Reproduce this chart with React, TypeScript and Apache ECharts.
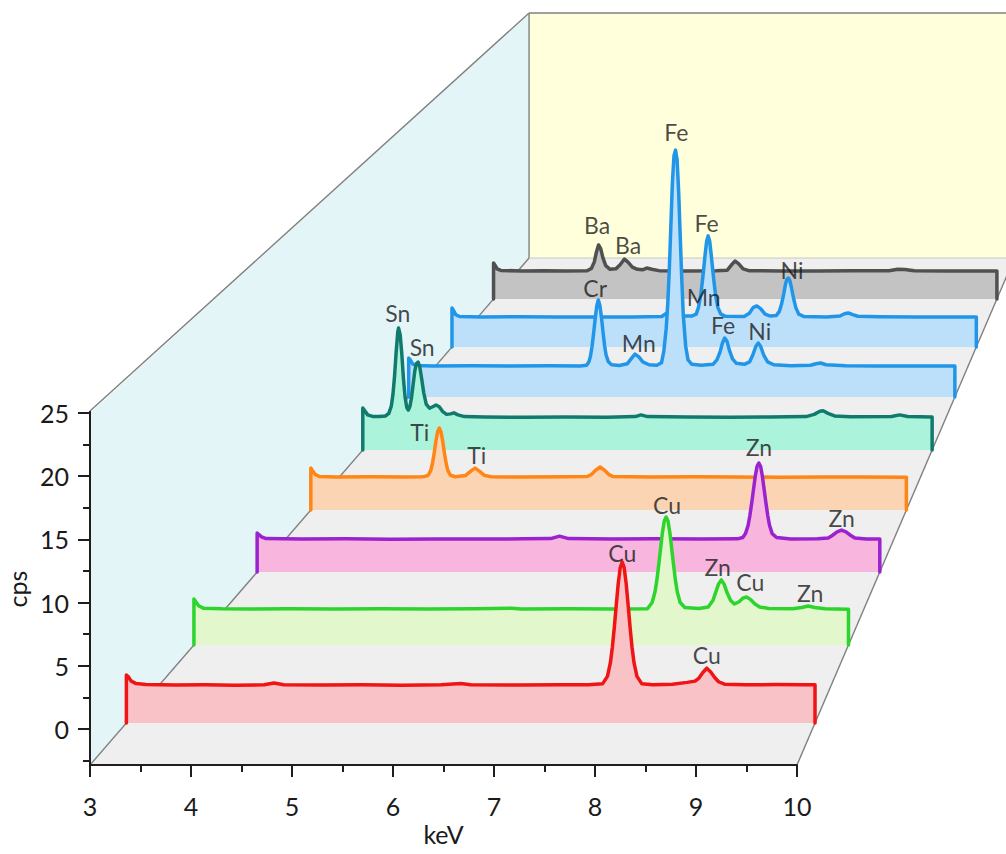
import React, { useEffect, useRef } from "react";
import * as echarts from "echarts";

// ---------------- data ----------------
const KEV_MIN = 3;
const KEV_MAX = 10;
const CPS_TICKS = [0, 5, 10, 15, 20, 25];
const CPS_MINOR_TICKS = [-2.5, 2.5, 7.5, 12.5, 17.5, 22.5];

// spectra: [keV, cps] (front to back)
const SPEC_CU = [[3,0],[3,3.9],[3.02,3.75],[3.05,3.4],[3.1,3.2],[3.2,3.12],[3.5,3.08],[3.8,3.1],[4.1,3.07],[4.4,3.1],[4.5,3.25],[4.6,3.1],[5.0,3.08],[5.4,3.1],[5.8,3.07],[6.2,3.1],[6.4,3.2],[6.5,3.1],[7.0,3.08],[7.4,3.1],[7.7,3.1],[7.84,3.18],[7.89,3.79],[7.92,4.9],[7.94,6.15],[7.96,7.78],[7.98,9.62],[8.0,11.36],[8.02,12.62],[8.04,13.08],[8.06,12.62],[8.08,11.36],[8.1,9.62],[8.12,7.78],[8.14,6.15],[8.16,4.9],[8.19,3.79],[8.24,3.18],[8.35,3.1],[8.55,3.15],[8.7,3.3],[8.78,3.4],[8.82,3.65],[8.86,4.1],[8.9,4.45],[8.94,4.15],[8.98,3.7],[9.02,3.35],[9.08,3.15],[9.3,3.1],[9.6,3.12],[9.9,3.1],[10,3.1],[10,0]];
const SPEC_CUZN = [[3,0],[3,3.93],[3.02,3.7],[3.05,3.35],[3.1,3.15],[3.3,3.1],[3.6,3.08],[4.0,3.1],[4.5,3.07],[5.0,3.1],[5.5,3.08],[6.0,3.1],[6.4,3.15],[6.5,3.08],[7.0,3.1],[7.5,3.08],[7.85,3.1],[7.9,3.63],[7.93,4.5],[7.95,5.5],[7.97,6.8],[7.99,8.2],[8.01,9.6],[8.03,10.6],[8.05,10.94],[8.07,10.6],[8.09,9.6],[8.11,8.2],[8.13,6.8],[8.15,5.5],[8.17,4.5],[8.2,3.63],[8.25,3.2],[8.4,3.12],[8.5,3.25],[8.55,3.8],[8.58,4.5],[8.61,5.2],[8.64,5.56],[8.67,5.2],[8.7,4.5],[8.74,3.8],[8.78,3.5],[8.83,3.7],[8.87,4.0],[8.91,4.1],[8.95,3.9],[9.0,3.5],[9.05,3.25],[9.15,3.12],[9.4,3.1],[9.5,3.2],[9.57,3.33],[9.64,3.2],[9.75,3.1],[10,3.05],[10,0]];
const SPEC_ZN = [[3,0],[3,3.5],[3.02,3.35],[3.05,3.15],[3.1,3.0],[3.5,2.96],[4.0,2.98],[4.5,2.95],[5.0,2.97],[5.5,2.96],[6.0,2.98],[6.3,3.0],[6.4,3.22],[6.5,3.0],[7.0,2.96],[7.5,2.98],[8.0,2.96],[8.4,2.98],[8.46,3.1],[8.49,3.45],[8.52,4.2],[8.54,5.1],[8.56,6.2],[8.58,7.4],[8.6,8.6],[8.62,9.5],[8.64,9.79],[8.66,9.5],[8.68,8.6],[8.7,7.4],[8.72,6.2],[8.74,5.1],[8.76,4.2],[8.79,3.45],[8.84,3.1],[9.0,2.97],[9.3,2.98],[9.42,3.05],[9.47,3.3],[9.52,3.6],[9.57,3.77],[9.62,3.6],[9.67,3.3],[9.72,3.05],[9.85,2.97],[10,2.96],[10,0]];
const SPEC_TI = [[3,0],[3,3.94],[3.02,3.7],[3.05,3.35],[3.1,3.15],[3.3,3.1],[3.7,3.12],[4.1,3.1],[4.3,3.12],[4.34,3.15],[4.38,3.26],[4.41,3.72],[4.43,4.39],[4.45,5.35],[4.47,6.46],[4.49,7.33],[4.51,7.7],[4.53,7.33],[4.55,6.46],[4.57,5.35],[4.59,4.39],[4.61,3.72],[4.64,3.26],[4.7,3.12],[4.82,3.25],[4.88,3.65],[4.93,3.94],[4.98,3.65],[5.04,3.25],[5.12,3.12],[5.5,3.1],[6.0,3.12],[6.25,3.15],[6.3,3.35],[6.35,3.75],[6.4,4.04],[6.45,3.75],[6.5,3.35],[6.55,3.15],[7.0,3.1],[7.5,3.12],[8.0,3.1],[8.5,3.08],[9.0,3.1],[9.5,3.1],[10,3.08],[10,0]];
const SPEC_SN = [[3,0],[3,4.13],[3.02,3.9],[3.06,3.45],[3.12,3.3],[3.2,3.28],[3.28,3.35],[3.32,3.6],[3.35,4.3],[3.37,5.4],[3.39,7.2],[3.41,9.6],[3.43,11.6],[3.44,11.98],[3.46,11.3],[3.48,9.4],[3.5,7.0],[3.52,5.2],[3.54,4.2],[3.56,3.93],[3.58,4.3],[3.6,5.2],[3.62,6.5],[3.64,7.8],[3.66,8.5],[3.68,8.64],[3.7,8.2],[3.72,7.2],[3.75,5.6],[3.78,4.5],[3.82,4.1],[3.86,4.25],[3.9,4.42],[3.94,4.25],[3.98,3.8],[4.03,3.5],[4.08,3.55],[4.12,3.65],[4.17,3.45],[4.25,3.28],[4.5,3.24],[5.0,3.22],[5.5,3.25],[6.0,3.22],[6.35,3.28],[6.42,3.45],[6.5,3.28],[7.0,3.24],[7.5,3.22],[8.0,3.25],[8.45,3.28],[8.55,3.5],[8.62,3.8],[8.66,3.85],[8.72,3.6],[8.8,3.35],[9.0,3.26],[9.5,3.3],[9.6,3.45],[9.7,3.3],[10,3.25],[10,0]];
const SPEC_STEEL = [[3,0],[3,3.99],[3.02,3.8],[3.05,3.4],[3.1,3.22],[3.3,3.17],[3.8,3.2],[4.3,3.17],[4.8,3.19],[5.2,3.17],[5.28,3.25],[5.31,3.6],[5.33,4.2],[5.35,5.2],[5.37,6.5],[5.39,8.0],[5.41,9.3],[5.43,9.93],[5.45,9.4],[5.47,8.2],[5.49,6.7],[5.51,5.3],[5.53,4.3],[5.56,3.6],[5.6,3.3],[5.7,3.22],[5.8,3.4],[5.85,3.9],[5.9,4.4],[5.95,4.1],[6.0,3.6],[6.08,3.3],[6.18,3.25],[6.24,3.5],[6.27,4.7],[6.3,7.0],[6.32,9.5],[6.34,13.0],[6.36,17.5],[6.38,22.0],[6.4,24.7],[6.42,25.28],[6.44,24.3],[6.46,21.0],[6.48,16.5],[6.5,12.0],[6.52,8.3],[6.55,5.2],[6.58,3.8],[6.63,3.35],[6.75,3.25],[6.9,3.35],[6.95,3.8],[6.99,4.6],[7.02,5.5],[7.05,6.04],[7.08,5.7],[7.11,4.8],[7.15,3.9],[7.2,3.45],[7.3,3.35],[7.37,3.6],[7.41,4.3],[7.45,5.2],[7.48,5.53],[7.51,5.2],[7.55,4.3],[7.6,3.6],[7.68,3.3],[7.9,3.2],[8.15,3.25],[8.22,3.4],[8.28,3.48],[8.35,3.3],[8.6,3.2],[9.0,3.17],[9.5,3.18],[10,3.17],[10,0]];
const SPEC_FENI = [[3,0],[3,4.16],[3.02,3.9],[3.05,3.45],[3.1,3.25],[3.4,3.2],[3.9,3.22],[4.4,3.2],[4.9,3.21],[5.4,3.2],[5.8,3.25],[5.9,3.8],[6.0,3.3],[6.2,3.3],[6.26,3.5],[6.29,4.2],[6.32,5.5],[6.34,6.8],[6.36,8.3],[6.38,9.9],[6.4,11.3],[6.42,11.85],[6.44,11.3],[6.46,9.9],[6.48,8.3],[6.5,6.8],[6.52,5.5],[6.55,4.2],[6.59,3.5],[6.65,3.27],[6.9,3.25],[6.97,3.6],[7.02,4.2],[7.07,4.38],[7.12,4.1],[7.18,3.5],[7.25,3.3],[7.33,3.35],[7.37,3.8],[7.4,4.6],[7.43,5.7],[7.45,6.6],[7.47,7.2],[7.49,7.36],[7.51,7.1],[7.53,6.4],[7.56,5.2],[7.59,4.2],[7.63,3.5],[7.7,3.25],[8.0,3.2],[8.18,3.3],[8.24,3.55],[8.29,3.63],[8.35,3.45],[8.42,3.28],[8.7,3.22],[9.2,3.2],[9.6,3.21],[10,3.2],[10,0]];
const SPEC_BA = [[3,0],[3,4.0],[3.02,3.75],[3.05,3.35],[3.1,3.18],[3.4,3.1],[3.7,3.15],[4.0,3.1],[4.3,3.13],[4.36,3.4],[4.4,4.1],[4.43,5.2],[4.46,6.0],[4.49,5.6],[4.52,4.6],[4.56,3.7],[4.62,3.3],[4.7,3.35],[4.76,3.8],[4.82,4.44],[4.87,4.1],[4.93,3.55],[5.0,3.3],[5.07,3.25],[5.13,3.44],[5.2,3.3],[5.3,3.15],[5.7,3.11],[6.1,3.13],[6.25,3.2],[6.31,3.8],[6.36,4.22],[6.41,3.9],[6.47,3.35],[6.55,3.15],[7.0,3.12],[7.5,3.1],[8.0,3.13],[8.5,3.15],[8.62,3.3],[8.72,3.28],[8.85,3.15],[9.3,3.1],[9.8,3.12],[10,3.1],[10,0]];

// peak labels: [keV, cps, text]
const LBL_CU = [[8.04, 13.8, "Cu"], [8.9, 5.52, "Cu"]];
const LBL_CUZN = [[8.06, 11.97, "Cu"], [8.6, 6.67, "Zn"], [8.95, 5.38, "Cu"], [9.59, 4.44, "Zn"]];
const LBL_ZN = [[8.64, 11.23, "Zn"], [9.57, 4.85, "Zn"]];
const LBL_TI = [[4.28, 7.32, "Ti"], [4.95, 5.16, "Ti"]];
const LBL_SN = [[3.43, 13.46, "Sn"], [3.73, 10.12, "Sn"]];
const LBL_STEEL = [[5.39, 11.16, "Cr"], [5.95, 5.53, "Mn"], [6.43, 27.12, "Fe"], [7.03, 7.37, "Fe"], [7.5, 6.76, "Ni"]];
const LBL_FENI = [[6.4, 13.23, "Fe"], [6.36, 5.34, "Mn"], [7.54, 8.22, "Ni"]];
const LBL_BA = [[4.44, 8.22, "Ba"], [4.87, 6.0, "Ba"]];

const SPECTRA = [SPEC_CU, SPEC_CUZN, SPEC_ZN, SPEC_TI, SPEC_SN, SPEC_STEEL, SPEC_FENI, SPEC_BA];
const LABELS = [LBL_CU, LBL_CUZN, LBL_ZN, LBL_TI, LBL_SN, LBL_STEEL, LBL_FENI, LBL_BA];

// ---------------- styles / layout ----------------
const LINE_COLORS = ["#f01414", "#2ed42e", "#9a22cf", "#ff8514", "#117a6c", "#2196e8", "#2196e8", "#505050"];
const FILL_COLORS = ["#f9c2c6", "#e2f7cb", "#f8b5de", "#fbd4b4", "#acf3dc", "#bde0fa", "#bde0fa", "#c3c3c3"];
const BASE_Y = [723, 645, 572, 510, 450, 397, 347, 299];

const FRONT_LEFT = 90;
const FRONT_RIGHT = 797;
const FRONT_Y = 765;
const CPS25_Y = 413;
const PX_PER_CPS = 12.64;
const LEFT_SLOPE = 0.866;
const RIGHT_SLOPE = 0.429;
const BACK_Y = 258;
const TOP_Y = 13;
const GRID_YMAX = 30;
const FONT = "Lato, 'Open Sans', sans-serif";
const INK = "#1e1e1e";

function depthAt(y: number) {
  const d = FRONT_Y - y;
  const left = FRONT_LEFT + LEFT_SLOPE * d;
  const right = FRONT_RIGHT + RIGHT_SLOPE * d;
  const w = right - left;
  const s = (PX_PER_CPS * w) / (FRONT_RIGHT - FRONT_LEFT);
  return { left, right, w, s };
}

export default function App() {
  const ref = useRef<HTMLDivElement>(null);
  useEffect(() => {
    if (!ref.current) return;
    const chart = echarts.init(ref.current, null, { renderer: "svg" });
    const grids: any[] = [];
    const xAxes: any[] = [];
    const yAxes: any[] = [];
    const series: any[] = [];
    const n = SPECTRA.length;
    for (let k = 0; k < n; k++) {
      const g = depthAt(BASE_Y[k]);
      const h = g.s * GRID_YMAX;
      grids.push({ left: g.left, width: g.w, top: BASE_Y[k] - h, height: h, containLabel: false, outerBoundsMode: "none" });
      xAxes.push({ gridIndex: k, type: "value", min: KEV_MIN, max: KEV_MAX, show: false });
      yAxes.push({ gridIndex: k, type: "value", min: 0, max: GRID_YMAX, show: false });
      series.push({
        type: "line",
        xAxisIndex: k,
        yAxisIndex: k,
        data: SPECTRA[k],
        showSymbol: false,
        symbol: "none",
        clip: false,
        z: 2 + (n - k),
        lineStyle: { color: LINE_COLORS[k], width: 3.5, join: "round", cap: "round" },
        areaStyle: { color: FILL_COLORS[k], opacity: 1, origin: "start" },
        silent: true,
      });
      series.push({
        type: "scatter",
        xAxisIndex: k,
        yAxisIndex: k,
        z: 30,
        symbolSize: 1,
        itemStyle: { color: "rgba(0,0,0,0)" },
        silent: true,
        data: LABELS[k].map((l) => ({ value: [l[0], l[1]], name: l[2] })),
        label: {
          show: true,
          position: "inside",
          formatter: "{b}",
          color: "#1a1a1a",
          fontSize: 23,
          fontFamily: FONT,
        },
      });
    }
    // visible front axes
    const ag = n;
    const yMin = 25 - (FRONT_Y - CPS25_Y) / PX_PER_CPS;
    grids.push({ left: FRONT_LEFT, width: FRONT_RIGHT - FRONT_LEFT, top: CPS25_Y, height: FRONT_Y - CPS25_Y, containLabel: false, outerBoundsMode: "none" });
    xAxes.push({
      gridIndex: ag, type: "value", min: KEV_MIN, max: KEV_MAX, interval: 1, z: 20, position: "bottom",
      name: "keV", nameLocation: "middle", nameGap: 56,
      nameTextStyle: { fontSize: 25, fontFamily: FONT, color: "#1a1a1a" },
      axisLine: { show: true, onZero: false, lineStyle: { color: INK, width: 2 } },
      axisTick: { show: true, length: 12, lineStyle: { color: INK, width: 2 } },
      minorTick: { show: true, splitNumber: 2, length: 7, lineStyle: { color: INK, width: 2 } },
      axisLabel: { fontSize: 25, fontFamily: FONT, color: "#1a1a1a", margin: 28 },
      splitLine: { show: false },
    });
    yAxes.push({
      gridIndex: ag, type: "value", min: yMin, max: 25, z: 20, position: "left",
      name: "cps", nameLocation: "middle", nameGap: 52,
      nameTextStyle: { fontSize: 25, fontFamily: FONT, color: "#1a1a1a" },
      axisLine: { show: true, onZero: false, lineStyle: { color: INK, width: 2 } },
      axisTick: { show: true, length: 12, customValues: CPS_TICKS, lineStyle: { color: INK, width: 2 } },
      axisLabel: { show: true, customValues: CPS_TICKS, fontSize: 25, fontFamily: FONT, color: "#1a1a1a", margin: 21 },
      splitLine: { show: false },
    });
    yAxes.push({
      gridIndex: ag, type: "value", min: yMin, max: 25, z: 20, position: "left", offset: 0,
      axisLine: { show: false, onZero: false },
      axisTick: { show: true, length: 7, customValues: CPS_MINOR_TICKS, lineStyle: { color: INK, width: 2 } },
      axisLabel: { show: false, customValues: CPS_MINOR_TICKS },
      splitLine: { show: false },
    });

    const back = depthAt(BACK_Y);
    const edge = { stroke: "#808080", lineWidth: 1.4 };
    const graphic = [
      { type: "polygon", z: -5, silent: true, shape: { points: [[FRONT_LEFT + 1, FRONT_Y], [FRONT_LEFT + 1, CPS25_Y - 1], [back.left, TOP_Y], [back.left, BACK_Y]] }, style: { fill: "#e4f5f7" } },
      { type: "polygon", z: -5, silent: true, shape: { points: [[back.left, TOP_Y], [back.right, TOP_Y], [back.right, BACK_Y], [back.left, BACK_Y]] }, style: { fill: "#ffffdc" } },
      { type: "polygon", z: -5, silent: true, shape: { points: [[FRONT_LEFT + 1, FRONT_Y], [FRONT_RIGHT, FRONT_Y], [back.right, BACK_Y], [back.left, BACK_Y]] }, style: { fill: "#efefef" } },
      { type: "line", z: -4, silent: true, shape: { x1: FRONT_LEFT, y1: CPS25_Y - 2, x2: back.left, y2: TOP_Y }, style: edge },
      { type: "line", z: -4, silent: true, shape: { x1: back.left, y1: TOP_Y, x2: back.right, y2: TOP_Y }, style: edge },
      { type: "line", z: -4, silent: true, shape: { x1: back.left, y1: TOP_Y, x2: back.left, y2: BACK_Y }, style: edge },
      { type: "line", z: -4, silent: true, shape: { x1: back.left, y1: BACK_Y, x2: back.right, y2: BACK_Y }, style: { stroke: "#c8c8c8", lineWidth: 1 } },
      { type: "line", z: -4, silent: true, shape: { x1: FRONT_LEFT, y1: FRONT_Y, x2: back.left, y2: BACK_Y }, style: edge },
      { type: "line", z: -4, silent: true, shape: { x1: FRONT_RIGHT, y1: FRONT_Y, x2: back.right, y2: BACK_Y }, style: edge },
      // front vertical (cps) axis line
      { type: "line", z: 50, silent: true, shape: { x1: FRONT_LEFT, y1: CPS25_Y - 2, x2: FRONT_LEFT, y2: FRONT_Y + 1 }, style: { stroke: INK, lineWidth: 2 } },
    ];

    chart.setOption({
      animation: false,
      backgroundColor: "#ffffff",
      grid: grids,
      xAxis: xAxes,
      yAxis: yAxes,
      series,
      graphic,
    });
    return () => chart.dispose();
  }, []);
  return <div ref={ref} style={{ position: "fixed", left: 0, top: 0, width: 1006, height: 854 }} />;
}
